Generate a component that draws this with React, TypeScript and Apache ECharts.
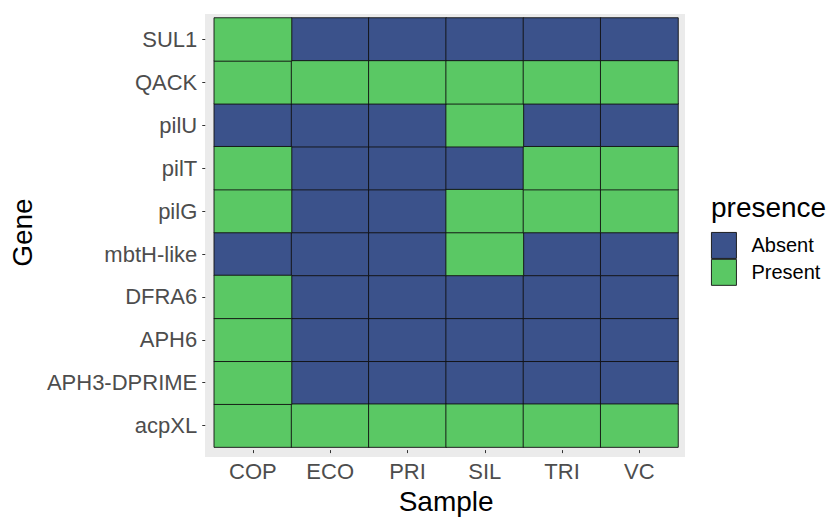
import React, { useEffect, useRef } from "react";
import * as echarts from "echarts";

const samples = ["COP", "ECO", "PRI", "SIL", "TRI", "VC"];
// bottom to top (category axis order)
const genes = ["acpXL", "APH3-DPRIME", "APH6", "DFRA6", "mbtH-like", "pilG", "pilT", "pilU", "QACK", "SUL1"];
// 1 = Present, 0 = Absent; rows follow genes order, columns follow samples
const presence = [
  [1, 1, 1, 1, 1, 1], // acpXL
  [1, 0, 0, 0, 0, 0], // APH3-DPRIME
  [1, 0, 0, 0, 0, 0], // APH6
  [1, 0, 0, 0, 0, 0], // DFRA6
  [0, 0, 0, 1, 0, 0], // mbtH-like
  [1, 0, 0, 1, 1, 1], // pilG
  [1, 0, 0, 0, 1, 1], // pilT
  [0, 0, 0, 1, 0, 0], // pilU
  [1, 1, 1, 1, 1, 1], // QACK
  [1, 0, 0, 0, 0, 0], // SUL1
];
const levels = ["Absent", "Present"];
const levelColors = ["#3b528b", "#5ac864"];

export default function App() {
  const ref = useRef<HTMLDivElement>(null);
  useEffect(() => {
    if (!ref.current) return;
    const chart = echarts.init(ref.current, null, { renderer: "svg" });
    const font = "Liberation Sans, Arial, sans-serif";
    const series = levels.map((lv, li) => {
      const data: number[][] = [];
      presence.forEach((row, gi) =>
        row.forEach((v, si) => {
          if (v === li) data.push([si, gi, v]);
        })
      );
      return {
        name: lv,
        type: "heatmap",
        data,
        itemStyle: { color: levelColors[li], borderColor: "#111", borderWidth: 0.9 },
        emphasis: { disabled: true },
        z: 5,
      };
    });
    const visualMap = levels.map((lv, li) => ({
      type: "piecewise",
      show: false,
      seriesIndex: li,
      dimension: 2,
      pieces: [{ value: li, color: levelColors[li] }],
    }));
    chart.setOption({
      animation: false,
      backgroundColor: "#fff",
      grid: { left: 214, right: 158, top: 18, bottom: 66 },
      graphic: [
        {
          type: "rect",
          shape: { x: 205, y: 14, width: 480, height: 443 },
          style: { fill: "#ebebeb" },
          z: 0,
          silent: true,
        },
        {
          type: "text",
          left: 711,
          top: 193,
          style: { text: "presence", font: `28px ${font}`, fill: "#000" },
          z: 5,
        },
      ],
      visualMap,
      legend: {
        orient: "vertical",
        left: 711,
        top: 232,
        padding: 0,
        itemWidth: 25,
        itemHeight: 26,
        itemGap: 0,
        icon: "rect",
        itemStyle: { borderColor: "#111", borderWidth: 0.9 },
        textStyle: { fontFamily: font, fontSize: 20, color: "#000", padding: [0, 0, 0, 10] },
        data: levels.map((lv, li) => ({ name: lv, itemStyle: { color: levelColors[li] } })),
      },
      xAxis: {
        type: "category",
        data: samples,
        offset: 3,
        name: "Sample",
        nameLocation: "middle",
        nameGap: 18,
        nameTextStyle: { fontFamily: font, fontSize: 28, color: "#000" },
        axisLine: { show: false },
        axisTick: { show: true, alignWithLabel: true, length: 3, lineStyle: { color: "#333" } },
        axisLabel: { fontFamily: font, fontSize: 22, color: "#4d4d4d", margin: 10 },
        splitLine: { show: false },
      },
      yAxis: {
        type: "category",
        data: genes,
        offset: 9,
        name: "Gene",
        nameLocation: "middle",
        nameGap: 169,
        nameRotate: 90,
        nameTextStyle: { fontFamily: font, fontSize: 28, color: "#000" },
        axisLine: { show: false },
        axisTick: { show: true, alignWithLabel: true, length: 3, lineStyle: { color: "#333" } },
        axisLabel: { fontFamily: font, fontSize: 22, color: "#4d4d4d", margin: 8 },
        splitLine: { show: false },
      },
      series,
    });
    return () => chart.dispose();
  }, []);
  return <div ref={ref} style={{ width: 836, height: 520, position: "absolute", left: 0, top: 0 }} />;
}
